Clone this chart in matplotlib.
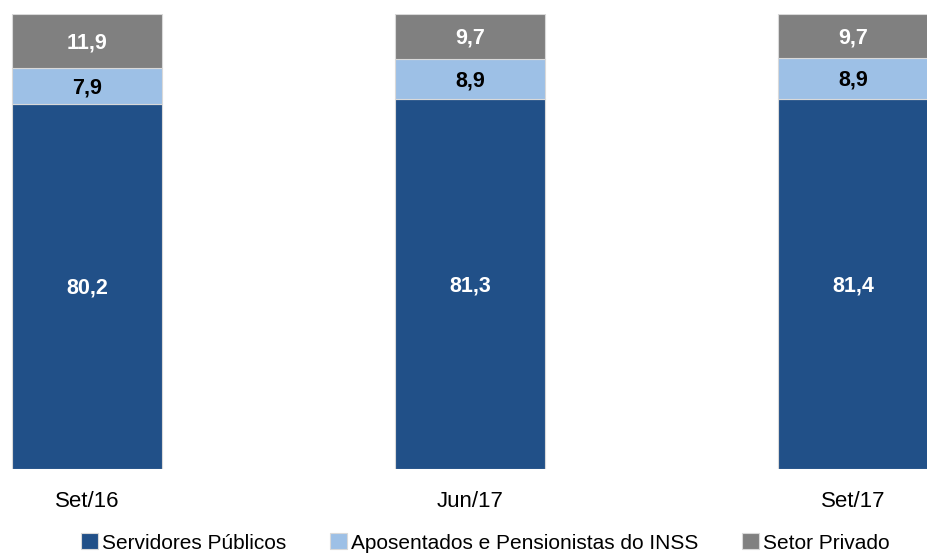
import matplotlib.pyplot as plt
import numpy as np

plt.rcParams['font.family'] = ['Liberation Sans', 'DejaVu Sans']

periodos = ['Set/16', 'Jun/17', 'Set/17']
servidores = [80.2, 81.3, 81.4]
aposentados = [7.9, 8.9, 8.9]
privado = [11.9, 9.7, 9.7]
series = ['Servidores Públicos', 'Aposentados e Pensionistas do INSS', 'Setor Privado']
cores = ['#215088', '#9DC0E6', '#808080']
cores_texto = ['white', 'black', 'white']

fig = plt.figure(figsize=(9.28, 5.54), dpi=100)
ax = fig.add_axes([0, 85 / 554, 1, 455 / 554])

x = np.arange(len(periodos))
largura = 0.394
base = np.zeros(len(periodos))
for valores, nome, cor, ct in zip([servidores, aposentados, privado], series, cores, cores_texto):
    ax.bar(x, valores, largura, bottom=base, color=cor, label=nome,
           edgecolor='#D9D9D9', linewidth=0.8)
    for xi, b, v in zip(x, base, valores):
        ax.text(xi, b + v / 2 - 0.4, f'{v:.1f}'.replace('.', ','), ha='center', va='center',
                color=ct, fontsize=15.5, fontweight='bold')
    base = base + np.array(valores)

ax.set_xlim(-87 / 383, 841 / 383)
ax.set_ylim(0, 100)
ax.set_yticks([])
ax.set_xticks(x)
ax.set_xticklabels(periodos, fontsize=16)
ax.tick_params(axis='x', length=0, pad=16)
for s in ax.spines.values():
    s.set_visible(False)

fig.legend(loc='center', bbox_to_anchor=(0.523, 0.02), ncol=3, frameon=False,
           fontsize=15, handlelength=0.8, handleheight=0.8, handletextpad=0.2,
           columnspacing=2.1, borderpad=0)

fig.savefig('out.png', dpi=100)
